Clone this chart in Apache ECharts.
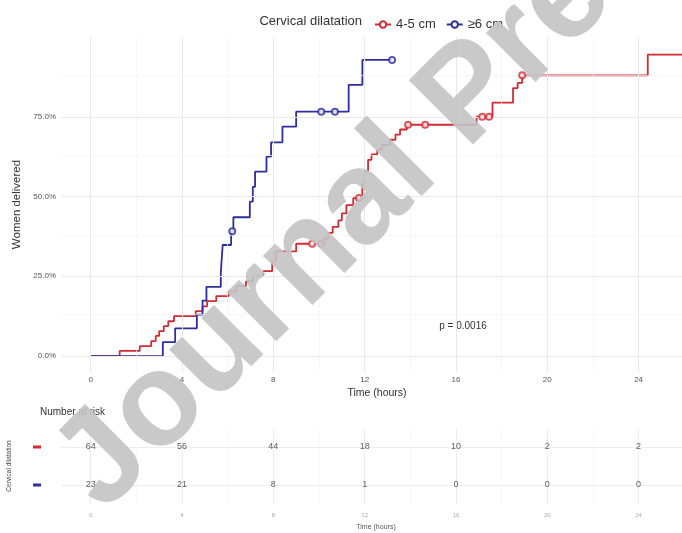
<!DOCTYPE html>
<html>
<head>
<meta charset="utf-8">
<script src="https://cdn.jsdelivr.net/npm/echarts@6/dist/echarts.min.js"></script>
<style>html,body{margin:0;padding:0;background:#fff}#c{width:682px;height:533px}</style>
</head>
<body>
<div id="c"></div>
<script>
// ---- data ----
const groups = ['4-5 cm', '≥6 cm'];
const redTimes = [0, 1.27, 2.15, 2.65, 2.85, 3.0, 3.2, 3.4, 3.65, 4.6, 4.9, 5.1, 5.5, 6.05, 6.4, 6.8, 7.1, 7.55, 7.95, 8.1, 9.0, 10.2, 10.4, 10.6, 10.85, 11.0, 11.2, 11.5, 11.9, 12.0, 12.15, 12.3, 12.55, 12.75, 13.1, 13.35, 13.55, 13.85, 16.9, 17.6, 18.5, 18.7, 18.9, 24.4, 25.9];
const redPct   = [0, 1.6, 3.1, 4.7, 6.3, 7.8, 9.4, 10.9, 12.5, 14.1, 15.6, 17.2, 18.8, 20.3, 21.9, 23.4, 25.0, 26.6, 29.7, 32.8, 35.2, 36.8, 38.6, 40.5, 42.5, 44.7, 47.3, 49.5, 54.0, 58.0, 61.5, 63.2, 64.7, 66.2, 67.8, 69.4, 71.0, 72.5, 75.0, 79.4, 84.0, 85.6, 88.0, 94.5, 94.5];
const blueTimes = [0, 3.16, 3.7, 4.65, 4.9, 5.07, 5.7, 5.78, 6.15, 6.25, 6.97, 7.1, 7.2, 7.7, 7.9, 8.4, 9.0, 11.3, 11.9, 13.2];
const bluePct   = [0, 4.35, 8.7, 13.0, 17.4, 21.7, 26.1, 34.8, 39.1, 43.5, 48.4, 53.0, 57.8, 62.5, 67.0, 71.9, 76.6, 85.0, 92.8, 92.8];
const redCensorT = [9.7, 10.1, 11.75, 13.9, 14.65, 17.15, 17.45, 18.9];
const redCensorP = [35.2, 35.2, 49.5, 72.5, 72.5, 75.0, 75.0, 88.0];
const blueCensorT = [6.2, 10.1, 10.7, 13.2];
const blueCensorP = [39.1, 76.6, 76.6, 92.8];
const xTicks = [0, 4, 8, 12, 16, 20, 24];
const yTicks = [0, 0.25, 0.5, 0.75];
const atRiskRed  = [64, 56, 44, 18, 10, 2, 2];
const atRiskBlue = [23, 21, 8, 1, 0, 0, 0];
const pText = 'p = 0.0016';

// ---- styling ----
const RED = '#D42A34', BLUE = '#2E2E9E';
const FONT = 'Liberation Sans, Arial, sans-serif';
const XMIN = -1.3, XMAX = 25.9;
const GL = 61;

const zip = (a, b) => a.map((v, i) => [v, b[i] / 100]);
const majorX = [0, 4, 8, 12, 16, 20, 24], minorX = [2, 6, 10, 14, 18, 22];
const majorY = [0, 0.25, 0.5, 0.75], minorY = [0.125, 0.375, 0.625, 0.875];
const ML = (c, w) => ({color: c, width: w, type: 'solid'});

const gridLines = [
  ...majorX.map(v => ({xAxis: v, lineStyle: ML('#e8e8e8', 1)})),
  ...minorX.map(v => ({xAxis: v, lineStyle: ML('#f3f3f3', 0.7)})),
  ...majorY.map(v => ({yAxis: v, lineStyle: ML('#e8e8e8', 1)})),
  ...minorY.map(v => ({yAxis: v, lineStyle: ML('#f3f3f3', 0.7)}))
];
const riskGrid = [
  ...majorX.map(v => ({xAxis: v, lineStyle: ML('#ededed', 1)})),
  ...minorX.map(v => ({xAxis: v, lineStyle: ML('#f5f5f5', 0.7)})),
  ...groups.map(g => ({yAxis: g, lineStyle: ML('#ededed', 1)}))
];

const chart = echarts.init(document.getElementById('c'), null, {renderer: 'canvas'});
chart.setOption({
  animation: false,
  backgroundColor: '#fff',
  textStyle: {fontFamily: FONT},
  grid: [
    {left: GL, right: 0, top: 37, height: 335, containLabel: false, outerBoundsMode: 'none'},
    {left: GL, right: 0, top: 428, height: 76, containLabel: false, outerBoundsMode: 'none'}
  ],
  legend: {
    data: groups, left: 369, top: 13, itemWidth: 16, itemHeight: 8, itemGap: 10,
    textStyle: {fontSize: 13, color: '#333', fontFamily: FONT}
  },
  xAxis: [
    {type: 'value', gridIndex: 0, min: XMIN, max: XMAX,
     axisLine: {show: false}, splitLine: {show: false},
     axisTick: {show: true, length: 3, lineStyle: {color: '#555'}, customValues: xTicks},
     axisLabel: {customValues: xTicks, fontSize: 8, color: '#555', margin: 4}},
    {type: 'value', gridIndex: 1, min: XMIN, max: XMAX,
     axisLine: {show: false}, splitLine: {show: false}, axisTick: {show: false},
     axisLabel: {customValues: xTicks, fontSize: 6, color: '#aaa', margin: 8}}
  ],
  yAxis: [
    {type: 'value', gridIndex: 0, min: -0.05, max: 1.0,
     axisLine: {show: false}, splitLine: {show: false},
     axisTick: {show: true, length: 3, lineStyle: {color: '#555'}, customValues: yTicks},
     axisLabel: {customValues: yTicks, fontSize: 8, color: '#555', margin: 5,
                 formatter: v => (v * 100).toFixed(1) + '%'},
     name: 'Women delivered', nameLocation: 'middle', nameRotate: 90, nameGap: 29,
     nameTextStyle: {fontSize: 11.5, color: '#333', fontFamily: FONT}},
    {type: 'category', gridIndex: 1, data: groups, inverse: true,
     axisLine: {show: false}, axisTick: {show: false}, splitLine: {show: false},
     axisLabel: {margin: 20, formatter: (v, i) => i === 0 ? '{r|}' : '{b|}',
       rich: {r: {width: 8, height: 3, backgroundColor: RED},
              b: {width: 8, height: 3, backgroundColor: BLUE}}},
     name: 'Cervical dilatation', nameLocation: 'middle', nameRotate: 90, nameGap: 48,
     nameTextStyle: {fontSize: 6.5, color: '#444', fontFamily: FONT}}
  ],
  series: [
    {type: 'line', xAxisIndex: 0, yAxisIndex: 0, data: [], z: 1, silent: true,
     markLine: {silent: true, symbol: 'none', label: {show: false}, data: gridLines, animation: false}},
    {type: 'line', xAxisIndex: 1, yAxisIndex: 1, data: [], z: 1, silent: true,
     markLine: {silent: true, symbol: 'none', label: {show: false}, data: riskGrid, animation: false}},
    {name: groups[0], type: 'line', step: 'end', xAxisIndex: 0, yAxisIndex: 0, z: 3,
     data: zip(redTimes, redPct), showSymbol: false, symbol: 'emptyCircle', symbolSize: 6,
     itemStyle: {color: RED}, lineStyle: {color: RED, width: 1.8}},
    {name: groups[1], type: 'line', step: 'end', xAxisIndex: 0, yAxisIndex: 0, z: 4,
     data: zip(blueTimes, bluePct), showSymbol: false, symbol: 'emptyCircle', symbolSize: 6,
     itemStyle: {color: BLUE}, lineStyle: {color: BLUE, width: 1.8}},
    {type: 'scatter', xAxisIndex: 0, yAxisIndex: 0, z: 5, symbol: 'emptyCircle', symbolSize: 6,
     data: zip(redCensorT, redCensorP), itemStyle: {color: RED, borderColor: RED, borderWidth: 1}},
    {type: 'scatter', xAxisIndex: 0, yAxisIndex: 0, z: 5, symbol: 'emptyCircle', symbolSize: 6,
     data: zip(blueCensorT, blueCensorP), itemStyle: {color: BLUE, borderColor: BLUE, borderWidth: 1}},
    {type: 'scatter', xAxisIndex: 1, yAxisIndex: 1, z: 5, symbolSize: 0,
     data: xTicks.map((t, i) => [t, groups[0], atRiskRed[i]]),
     label: {show: true, position: 'inside', formatter: p => p.data[2], fontSize: 9, color: '#333'}},
    {type: 'scatter', xAxisIndex: 1, yAxisIndex: 1, z: 5, symbolSize: 0,
     data: xTicks.map((t, i) => [t, groups[1], atRiskBlue[i]]),
     label: {show: true, position: 'inside', formatter: p => p.data[2], fontSize: 9, color: '#333'}}
  ],
  graphic: [
    {type: 'text', x: 362, y: 21, style: {text: 'Cervical dilatation', align: 'right', verticalAlign: 'middle', font: '13px ' + FONT, fill: '#333'}},
    {type: 'text', x: 377, y: 393, style: {text: 'Time (hours)', align: 'center', verticalAlign: 'middle', font: '10.5px ' + FONT, fill: '#333'}},
    {type: 'text', x: 463, y: 326, style: {text: pText, align: 'center', verticalAlign: 'middle', font: '10px ' + FONT, fill: '#333'}},
    {type: 'text', x: 40, y: 412, style: {text: 'Number at risk', align: 'left', verticalAlign: 'middle', font: '10px ' + FONT, fill: '#333'}},
    {type: 'text', x: 376, y: 527, style: {text: 'Time (hours)', align: 'center', verticalAlign: 'middle', font: '7px ' + FONT, fill: '#555'}},
    {type: 'text', x: 78, y: 488, rotation: 45 * Math.PI / 180, z: 100, silent: true,
     style: {text: 'Journal Pre-proof', align: 'left', verticalAlign: 'middle',
             font: 'bold 132px ' + FONT, fill: 'rgba(195,195,195,0.9)'}}
  ]
});
</script>
</body>
</html>
